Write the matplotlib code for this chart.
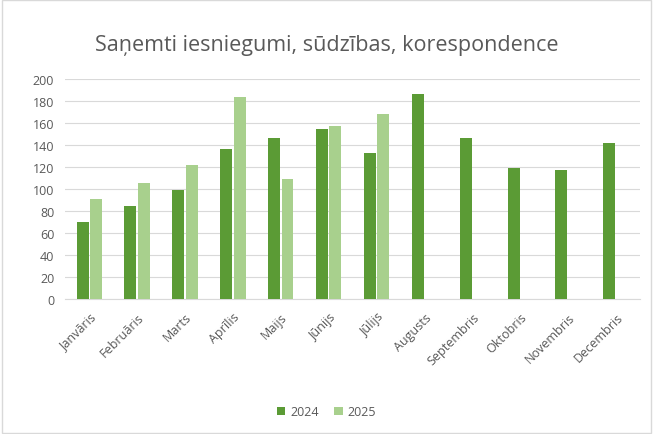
import numpy as np
import matplotlib.pyplot as plt

months = ['Janvāris', 'Februāris', 'Marts', 'Aprīlis', 'Maijs', 'Jūnijs',
          'Jūlijs', 'Augusts', 'Septembris', 'Oktobris', 'Novembris', 'Decembris']
v2024 = [70, 85, 99, 137, 147, 155, 133, 187, 147, 119, 118, 142]
v2025 = [91, 106, 122, 184, 109, 158, 169]

plt.rcParams['font.family'] = ['Open Sans', 'DejaVu Sans']

fig = plt.figure(figsize=(6.53, 4.35), dpi=100)
ax = fig.add_axes([0.1, 0.31, 0.88, 0.505])

x = np.arange(len(months))
w = 0.25
ax.bar(x - 0.14, v2024, w, color='#5b9b35', label='2024', zorder=3)
ax.bar(x[:len(v2025)] + 0.14, v2025, w, color='#a8d08d', label='2025', zorder=3)

ax.set_ylim(0, 200)
ax.set_yticks(range(0, 201, 20))
ax.set_xlim(-0.5, len(months) - 0.5)
ax.set_xticks(x)
ax.set_xticklabels(months, rotation=45, ha='right', rotation_mode='anchor')
ax.tick_params(axis='both', length=0, labelsize=9, colors='#595959')
ax.tick_params(axis='x', pad=8)
ax.tick_params(axis='y', pad=8)
ax.grid(axis='y', color='#d9d9d9', linewidth=0.8, zorder=0)
for s in ['top', 'right', 'left']:
    ax.spines[s].set_visible(False)
ax.spines['bottom'].set_color('#d9d9d9')

fig.suptitle('Saņemti iesniegumi, sūdzības, korespondence', y=0.92,
             fontsize=15.5, color='#595959')
fig.legend(loc='lower center', ncol=2, frameon=False, fontsize=9,
           bbox_to_anchor=(0.5, 0.01), handlelength=0.7, handleheight=0.7,
           labelcolor='#595959', columnspacing=1.2, handletextpad=0.4)

border = plt.Rectangle((0.003, 0.003), 0.994, 0.994, transform=fig.transFigure,
                       fill=False, edgecolor='#d9d9d9', linewidth=1)
fig.patches.append(border)

fig.savefig('out.png', dpi=100)
